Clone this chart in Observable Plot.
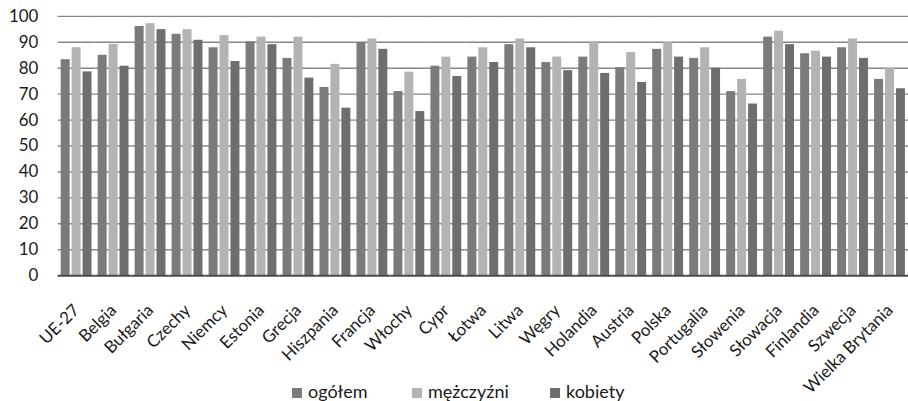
<!DOCTYPE html>
<html>
<head>
<meta charset="utf-8">
<script src="https://cdn.jsdelivr.net/npm/d3@7"></script>
<script src="https://cdn.jsdelivr.net/npm/@observablehq/plot@0.6"></script>
<style>
  html, body { margin: 0; padding: 0; background: #fff; overflow: hidden; }
  #chart { position: relative; width: 908px; height: 401px; overflow: hidden; font-family: Lato, "Open Sans", sans-serif; color: #1a1a1a; }
  #chart svg { position: absolute; left: 0; top: 0; }
  #legend { position: absolute; top: 381px; left: 0; width: 908px; height: 20px; font-size: 18px; line-height: 20px; }
  #legend .item { position: absolute; top: 0; white-space: nowrap; }
  #legend .sw { display: inline-block; width: 10px; height: 10px; margin-right: 6px; vertical-align: 0px; }
</style>
</head>
<body>
<div id="chart"></div>
<script>
// Countries (UE-27 average first), Polish labels
const countries = ["UE-27", "Belgia", "Bułgaria", "Czechy", "Niemcy", "Estonia", "Grecja", "Hiszpania",
  "Francja", "Włochy", "Cypr", "Łotwa", "Litwa", "Węgry", "Holandia", "Austria", "Polska",
  "Portugalia", "Słowenia", "Słowacja", "Finlandia", "Szwecja", "Wielka Brytania"];

const seriesNames = ["ogółem", "mężczyźni", "kobiety"];

const ogolem    = [83.3, 85.0, 96.1, 93.1, 87.9, 90.2, 83.8, 72.6, 89.9, 71.0, 80.8, 84.3, 89.1, 82.2, 84.3, 80.2, 87.3, 83.8, 71.0, 92.0, 85.6, 87.9, 75.7];
const mezczyzni = [87.9, 89.2, 97.2, 94.9, 92.6, 92.0, 92.0, 81.5, 91.3, 78.5, 84.3, 87.9, 91.3, 84.3, 90.2, 86.1, 89.9, 87.9, 75.7, 94.3, 86.6, 91.3, 79.9];
const kobiety   = [78.6, 80.8, 94.9, 90.8, 82.6, 89.1, 76.2, 64.6, 87.3, 63.3, 76.8, 82.2, 87.9, 79.1, 78.0, 74.5, 84.3, 80.0, 66.2, 89.1, 84.3, 83.8, 72.1];

const yTicks = [0, 10, 20, 30, 40, 50, 60, 70, 80, 90, 100];

const seriesColors = ["#7b7b7d", "#b3b3b3", "#6e6e70"];

// Long format rows for the grouped bars
const seriesValues = [ogolem, mezczyzni, kobiety];
const rows = [];
countries.forEach((c, i) => {
  seriesNames.forEach((s, j) => rows.push({country: c, series: s, value: seriesValues[j][i]}));
});

const plot = Plot.plot({
  width: 914,
  height: 401,
  marginLeft: 58,
  marginRight: 0,
  marginTop: 16,
  marginBottom: 124,
  style: {fontFamily: "Lato, 'Open Sans', sans-serif", color: "#1a1a1a", background: "transparent"},
  fx: {domain: countries, padding: 0, round: false, label: null, axis: null},
  x: {domain: seriesNames, paddingInner: 0.18, paddingOuter: 0.28, round: false, axis: null},
  y: {domain: [0, 100], axis: null},
  color: {domain: seriesNames, range: seriesColors},
  facet: {data: rows, x: "country"},
  marks: [
    Plot.ruleY(yTicks.filter(d => d > 0), {stroke: "#868686", strokeWidth: 1.4}),
    Plot.barY(rows, {x: "series", y: "value", fill: "series"}),
    Plot.ruleY([0], {stroke: "#4a4a4a", strokeWidth: 2}),
    Plot.axisY(yTicks, {tickSize: 0, tickPadding: 20, fontSize: 17, label: null}),
    Plot.axisFx({tickRotate: -45, tickSize: 0, tickPadding: 32, fontSize: 17, label: null, anchor: "bottom"})
  ]
});

const chart = document.getElementById("chart");
chart.appendChild(plot);

// Legend below the plot, built from the same series names and colour scale
const color = plot.scale("color");
const legend = d3.select(chart).append("div").attr("id", "legend");
const legendX = [292, 412, 550];
seriesNames.forEach((s, j) => {
  const item = legend.append("span").attr("class", "item").style("left", legendX[j] + "px");
  item.append("span").attr("class", "sw").style("background", color.apply(s));
  item.append("span").text(s);
});
</script>
</body>
</html>
